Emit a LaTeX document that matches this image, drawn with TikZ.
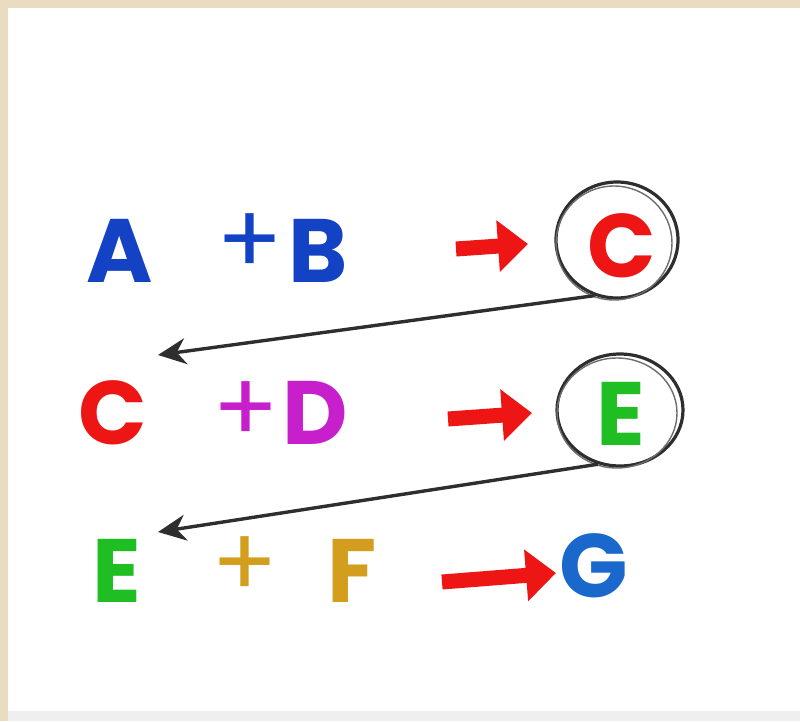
\documentclass[tikz,border=0pt]{standalone}
\usepackage{fontspec}
\setmainfont{Poppins}
\usetikzlibrary{arrows.meta,shapes.geometric}
\definecolor{beige}{HTML}{E9DCC1}
\definecolor{strip}{HTML}{EFEFEF}
\definecolor{cblue}{HTML}{1442C4}
\definecolor{cred}{HTML}{EE1515}
\definecolor{cmag}{HTML}{C81FCC}
\definecolor{cgreen}{HTML}{1FBE22}
\definecolor{cgold}{HTML}{D39E1E}
\definecolor{cgblue}{HTML}{1A68CC}
\definecolor{ink}{HTML}{2E2E2E}
\tikzset{
  letter/.style={font=\fontsize{90}{90}\selectfont\bfseries, inner sep=0pt, anchor=center},
  plus/.style={font=\fontsize{98}{98}\selectfont, inner sep=0pt, anchor=center},
  redarrow/.style={draw=cred, line width=15pt, -{Triangle[length=30pt,width=50pt]}},
  ring/.style={draw=ink, line width=3.2pt, ellipse, inner sep=0pt, minimum width=122pt, minimum height=116pt},
  ringb/.style={draw=ink!70, line width=1.4pt, ellipse, inner sep=0pt},
  back/.style={draw=ink, line width=3.4pt, -{Stealth[length=28pt,width=26pt]}}
}
\begin{document}
\begin{tikzpicture}[x=1pt,y=-1pt]
\useasboundingbox (0,0) rectangle (800,721);
\fill[beige] (0,0) rectangle (800,721);
\fill[white] (8,8) rectangle (800,711);
\fill[strip] (8,711) rectangle (800,721);
% row 1
\node[letter, text=cblue] (A) at (120,251) {A};
\node[plus, text=cblue] (p1) at (250,244) {+};
\node[letter, text=cblue] (B) at (318,251) {B};
\coordinate (r1s) at (456,249);
\coordinate (r1e) at (528,244);
\draw[redarrow] (r1s) -- (r1e);
\node[letter, text=cred] (C1) at (622,246) {C};
\node[ring] (o1) at (617,240) {};
\node[ringb, minimum width=116pt, minimum height=114pt] (o1b) at (614,243) {};
% row 2
\node[letter, text=cred] (C2) at (113,413) {C};
\node[plus, text=cmag] (p2) at (246,412) {+};
\node[letter, text=cmag] (D) at (315,413) {D};
\coordinate (r2s) at (448,419);
\coordinate (r2e) at (532,413);
\draw[redarrow] (r2s) -- (r2e);
\node[letter, text=cgreen] (E1) at (621,414) {E};
\node[ring, minimum width=126pt, minimum height=112pt] (o2) at (620,410) {};
\node[ringb, minimum width=120pt, minimum height=110pt] (o2b) at (617,413) {};
% row 3
\node[letter, text=cgreen] (E2) at (117,571) {E};
\node[plus, text=cgold] (p3) at (245,567) {+};
\node[letter, text=cgold] (F) at (352,571) {F};
\coordinate (r3s) at (442,582);
\coordinate (r3e) at (556,573);
\draw[redarrow] (r3s) -- (r3e);
\node[letter, text=cgblue] (G) at (594,566) {G};
% back connectors
\coordinate (t1) at (158,355);
\coordinate (t2) at (158,532);
\draw[back] (o1.-112) -- (t1);
\draw[back] (o2.-112) -- (t2);
\end{tikzpicture}
\end{document}
